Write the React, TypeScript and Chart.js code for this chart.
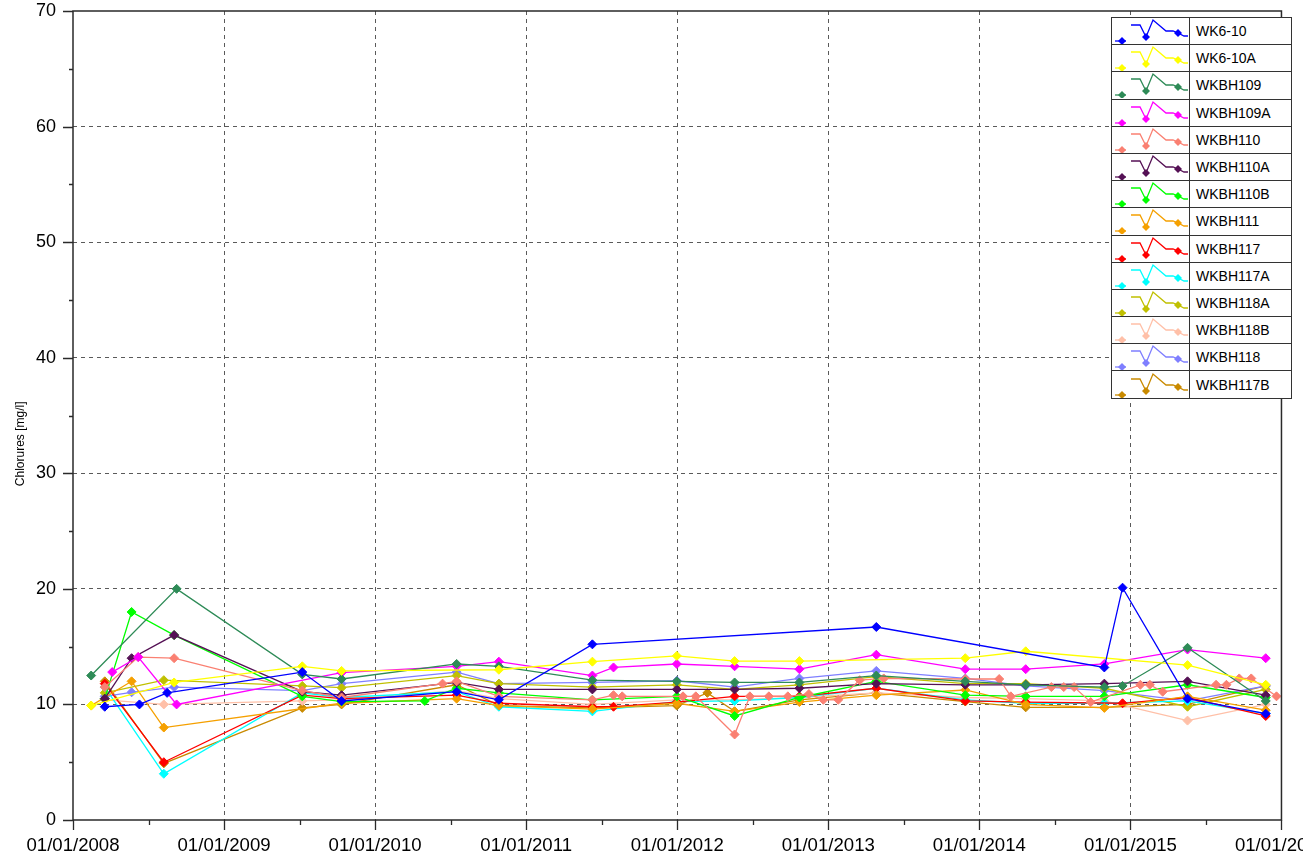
import React, { useEffect, useRef } from 'react';
import { Chart, registerables } from 'chart.js';

Chart.register(...registerables);

// ---------- Data ----------
const SERIES_NAMES = [
  'WK6-10', 'WK6-10A', 'WKBH109', 'WKBH109A', 'WKBH110', 'WKBH110A', 'WKBH110B',
  'WKBH111', 'WKBH117', 'WKBH117A', 'WKBH118A', 'WKBH118B', 'WKBH118', 'WKBH117B',
];
const SERIES_COLORS = [
  '#0000FF', '#FFFF00', '#2E8B57', '#FF00FF', '#FA8072', '#551155', '#00FF00',
  '#F5A000', '#FF0000', '#00FFFF', '#C0C000', '#FFC0A8', '#7F7FFF', '#C98A00',
];

const X_TICK_YEARS = [2008, 2009, 2010, 2011, 2012, 2013, 2014, 2015, 2016];
const Y_TICKS = [0, 10, 20, 30, 40, 50, 60, 70];

const WK6_10_DATES = ['2008-03-18', '2008-06-10', '2008-08-16', '2009-07-09', '2009-10-12', '2010-07-17', '2010-10-27', '2011-06-10', '2013-04-27', '2014-10-30', '2014-12-13', '2015-05-19', '2015-11-24'];
const WK6_10_VALUES = [9.8, 10.0, 11.0, 12.8, 10.3, 11.1, 10.4, 15.2, 16.7, 13.2, 20.1, 10.5, 9.2];

const WK6_10A_DATES = ['2008-02-14', '2008-09-02', '2009-07-09', '2009-10-12', '2010-10-27', '2011-06-10', '2011-12-31', '2012-05-19', '2012-10-23', '2013-11-28', '2014-04-23', '2015-05-19', '2015-11-24'];
const WK6_10A_VALUES = [9.9, 11.9, 13.3, 12.9, 13.0, 13.7, 14.2, 13.75, 13.75, 14.0, 14.6, 13.4, 11.7];

const WKBH109_DATES = ['2008-02-14', '2008-09-08', '2009-07-09', '2009-10-12', '2010-07-17', '2010-10-27', '2011-06-10', '2011-12-31', '2012-05-19', '2012-10-23', '2013-04-27', '2013-11-28', '2014-04-23', '2014-10-30', '2014-12-13', '2015-05-19', '2015-11-24'];
const WKBH109_VALUES = [12.5, 20.0, 12.6, 12.2, 13.5, 13.3, 12.1, 12.0, 11.9, 11.9, 12.5, 12.0, 11.7, 11.5, 11.6, 14.9, 10.3];

const WKBH109A_DATES = ['2008-04-05', '2008-06-07', '2008-09-08', '2009-10-12', '2010-07-17', '2010-10-27', '2011-06-10', '2011-07-31', '2011-12-31', '2012-05-19', '2012-10-23', '2013-04-27', '2013-11-28', '2014-04-23', '2014-10-30', '2015-05-19', '2015-11-24'];
const WKBH109A_VALUES = [12.8, 14.1, 10.0, 12.75, 13.3, 13.7, 12.5, 13.2, 13.5, 13.3, 13.05, 14.3, 13.05, 13.05, 13.5, 14.75, 14.0];

const WKBH110_DATES = ['2008-03-18', '2008-06-07', '2008-09-02', '2009-07-09', '2009-10-12', '2010-06-13', '2010-07-17', '2010-10-27', '2011-06-10', '2011-07-31', '2011-08-21', '2012-01-15', '2012-02-15', '2012-05-19', '2012-06-25', '2012-08-10', '2012-09-25', '2012-11-15', '2012-12-20', '2013-01-25', '2013-03-18', '2013-05-15', '2013-11-28', '2014-02-18', '2014-03-18', '2014-06-24', '2014-07-24', '2014-08-18', '2014-09-27', '2015-01-25', '2015-02-17', '2015-03-20', '2015-07-27', '2015-08-21', '2015-09-21', '2015-10-20', '2015-12-20'];
const WKBH110_VALUES = [11.5, 14.1, 14.0, 11.2, 10.6, 11.8, 12.0, 10.7, 10.4, 10.8, 10.7, 10.7, 10.7, 7.4, 10.7, 10.7, 10.7, 10.9, 10.4, 10.4, 12.1, 12.25, 12.2, 12.2, 10.7, 11.5, 11.5, 11.5, 10.2, 11.7, 11.7, 11.1, 11.7, 11.7, 12.25, 12.25, 10.7];

const WKBH110A_DATES = ['2008-03-18', '2008-05-22', '2008-09-02', '2009-07-09', '2009-10-12', '2010-07-17', '2010-10-27', '2011-06-10', '2011-12-31', '2012-05-19', '2012-10-23', '2013-04-27', '2013-11-28', '2014-04-23', '2014-10-30', '2015-05-19', '2015-11-24'];
const WKBH110A_VALUES = [10.5, 14.0, 16.0, 11.1, 10.8, 11.9, 11.3, 11.3, 11.3, 11.3, 11.4, 11.8, 11.7, 11.7, 11.8, 12.0, 10.8];

const WKBH110B_DATES = ['2008-03-18', '2008-05-22', '2008-09-02', '2009-07-09', '2009-10-12', '2010-05-01', '2010-07-17', '2010-10-27', '2011-06-10', '2011-12-31', '2012-05-19', '2012-10-23', '2013-04-27', '2013-11-28', '2014-04-23', '2014-10-30', '2015-05-19', '2015-11-24'];
const WKBH110B_VALUES = [10.5, 18.0, 16.0, 10.7, 10.25, 10.3, 11.4, 11.0, 10.4, 10.7, 9.0, 10.6, 12.0, 10.8, 10.7, 10.7, 11.7, 10.6];

const WKBH111_DATES = ['2008-02-14', '2008-05-22', '2008-08-08', '2009-10-12', '2010-07-17', '2010-10-27', '2011-06-10', '2011-12-31', '2012-05-19', '2012-10-23', '2013-04-27', '2013-11-28', '2014-04-23', '2014-10-30', '2015-05-19', '2015-11-24'];
const WKBH111_VALUES = [9.9, 12.0, 8.0, 10.1, 10.5, 9.9, 9.6, 10.1, 9.4, 10.2, 10.8, 11.25, 10.0, 9.7, 10.7, 9.5];

const WKBH117_DATES = ['2008-03-18', '2008-08-08', '2009-07-09', '2009-10-12', '2010-07-17', '2010-10-27', '2011-06-10', '2011-07-31', '2011-12-31', '2012-05-19', '2012-10-23', '2013-04-27', '2013-11-28', '2014-04-23', '2014-12-13', '2015-05-19', '2015-11-24'];
const WKBH117_VALUES = [11.8, 5.0, 10.8, 10.5, 10.8, 10.1, 9.8, 9.8, 10.2, 10.7, 10.7, 11.4, 10.3, 10.2, 10.1, 10.6, 9.0];

const WKBH117A_DATES = ['2008-03-18', '2008-08-08', '2009-07-09', '2009-10-12', '2010-07-17', '2010-10-27', '2011-06-10', '2011-12-31', '2012-05-19', '2012-10-23', '2013-04-27', '2013-11-28', '2014-04-23', '2014-10-30', '2015-05-19', '2015-11-24'];
const WKBH117A_VALUES = [11.5, 4.0, 11.0, 10.6, 11.1, 9.8, 9.4, 10.25, 10.3, 10.6, 11.4, 10.4, 10.1, 10.1, 10.3, 9.2];

const WKBH118A_DATES = ['2008-03-18', '2008-08-08', '2009-07-09', '2009-10-12', '2010-07-17', '2010-10-27', '2011-06-10', '2011-12-31', '2012-05-19', '2012-10-23', '2013-04-27', '2013-11-28', '2014-04-23', '2014-10-30', '2015-05-19', '2015-11-24'];
const WKBH118A_VALUES = [11.0, 12.1, 11.6, 11.45, 12.5, 11.8, 11.5, 11.7, 11.3, 11.7, 12.4, 11.8, 11.8, 11.4, 9.8, 11.3];

const WKBH118B_DATES = ['2008-03-18', '2008-08-08', '2009-07-09', '2009-10-12', '2010-07-17', '2010-10-27', '2011-06-10', '2011-12-31', '2012-05-19', '2012-10-23', '2013-04-27', '2013-11-28', '2014-04-23', '2014-10-30', '2015-05-19', '2015-11-24'];
const WKBH118B_VALUES = [10.4, 10.0, 10.3, 10.4, 11.2, 10.5, 10.0, 10.4, 10.4, 10.6, 11.0, 10.6, 10.5, 10.3, 8.6, 10.0];

const WKBH118_DATES = ['2008-03-18', '2008-05-22', '2008-09-02', '2009-07-09', '2009-10-12', '2010-07-17', '2010-10-27', '2011-06-10', '2011-12-31', '2012-05-19', '2012-10-23', '2013-04-27', '2013-11-28', '2014-04-23', '2014-10-30', '2015-05-19', '2015-11-24'];
const WKBH118_VALUES = [10.7, 11.05, 11.5, 11.2, 11.8, 12.8, 11.8, 11.9, 12.05, 11.5, 12.25, 12.9, 12.25, 11.6, 11.2, 10.3, 11.6];

const WKBH117B_DATES = ['2008-03-18', '2008-08-08', '2009-07-09', '2009-10-12', '2010-07-17', '2010-10-27', '2011-06-10', '2011-12-31', '2012-03-14', '2012-05-19', '2012-10-23', '2013-04-27', '2013-11-28', '2014-04-23', '2014-10-30', '2015-05-19', '2015-11-24'];
const WKBH117B_VALUES = [12.0, 4.9, 9.7, 10.0, 11.7, 9.9, 9.7, 9.9, 11.0, 9.4, 10.4, 11.0, 10.25, 9.75, 9.75, 10.0, 11.6];

const SERIES_DATES = [WK6_10_DATES, WK6_10A_DATES, WKBH109_DATES, WKBH109A_DATES, WKBH110_DATES, WKBH110A_DATES, WKBH110B_DATES, WKBH111_DATES, WKBH117_DATES, WKBH117A_DATES, WKBH118A_DATES, WKBH118B_DATES, WKBH118_DATES, WKBH117B_DATES];
const SERIES_VALUES = [WK6_10_VALUES, WK6_10A_VALUES, WKBH109_VALUES, WKBH109A_VALUES, WKBH110_VALUES, WKBH110A_VALUES, WKBH110B_VALUES, WKBH111_VALUES, WKBH117_VALUES, WKBH117A_VALUES, WKBH118A_VALUES, WKBH118B_VALUES, WKBH118_VALUES, WKBH117B_VALUES];

const Y_TITLE = 'Chlorures [mg/l]';

// ---------- Helpers ----------
function toYear(d: string): number {
  const [y, m, day] = d.split('-').map(Number);
  const start = Date.UTC(y, 0, 1);
  const end = Date.UTC(y + 1, 0, 1);
  return y + (Date.UTC(y, m - 1, day) - start) / (end - start);
}

const FONT = '"Liberation Sans", Arial, sans-serif';
const CANVAS_W = 1343;
const CANVAS_H = 856;

const frameTicksPlugin = {
  id: 'frameTicks',
  afterDraw(chart: any) {
    const { ctx, chartArea } = chart;
    const { left, top, right, bottom } = chartArea;
    const xs = chart.scales.x;
    const ys = chart.scales.y;
    ctx.save();
    ctx.strokeStyle = '#2a2a2a';
    ctx.lineWidth = 1.5;
    ctx.beginPath();
    ctx.rect(left, top, right - left, bottom - top);
    ctx.stroke();
    ctx.beginPath();
    for (let v = 0; v <= 70; v += 5) {
      const py = Math.round(ys.getPixelForValue(v)) + 0.5;
      const len = v % 10 === 0 ? 10 : 4;
      ctx.moveTo(left - len, py);
      ctx.lineTo(left, py);
    }
    for (let yr = X_TICK_YEARS[0]; yr <= X_TICK_YEARS[X_TICK_YEARS.length - 1]; yr += 0.5) {
      const px = Math.round(xs.getPixelForValue(yr)) + 0.5;
      const len = Number.isInteger(yr) ? 10 : 5;
      ctx.moveTo(px, bottom);
      ctx.lineTo(px, bottom + len);
    }
    ctx.lineWidth = 1.3;
    ctx.stroke();
    ctx.restore();
  },
};

function LegendIcon({ color }: { color: string }) {
  const d = (cx: number, cy: number, r: number) =>
    `${cx},${cy - r} ${cx + r},${cy} ${cx},${cy + r} ${cx - r},${cy}`;
  return (
    <svg width={77} height={26} style={{ display: 'block' }}>
      <polyline points="3,23 14,23" fill="none" stroke={color} strokeWidth={1.3} />
      <polyline points="19,7 28,7 34,19 41,2 54,13 61,13 66,15 72,18 76,18" fill="none" stroke={color} strokeWidth={1.3} />
      <polygon points={d(10, 23, 4)} fill={color} />
      <polygon points={d(34, 19, 4)} fill={color} />
      <polygon points={d(66, 15, 4)} fill={color} />
    </svg>
  );
}

export default function App() {
  const canvasRef = useRef<HTMLCanvasElement | null>(null);

  useEffect(() => {
    if (!canvasRef.current) return;
    const datasets = SERIES_NAMES.map((name, i) => ({
      label: name,
      data: SERIES_DATES[i].map((d, k) => ({ x: toYear(d), y: SERIES_VALUES[i][k] })),
      borderColor: SERIES_COLORS[i],
      backgroundColor: SERIES_COLORS[i],
      pointBackgroundColor: SERIES_COLORS[i],
      pointBorderColor: SERIES_COLORS[i],
      borderWidth: 1.3,
      pointStyle: 'rectRot',
      pointRadius: 4.5,
      pointBorderWidth: 1,
      tension: 0,
      fill: false,
    }));

    const chart = new Chart(canvasRef.current, {
      type: 'line',
      data: { datasets },
      plugins: [frameTicksPlugin],
      options: {
        animation: false,
        responsive: false,
        maintainAspectRatio: false,
        parsing: false as any,
        layout: { padding: { left: 0, top: 11, right: CANVAS_W - 1292, bottom: 0 } },
        plugins: {
          legend: { display: false },
          tooltip: { enabled: false },
        },
        scales: {
          x: {
            type: 'linear',
            min: 2008,
            max: 2016,
            afterBuildTicks: (scale: any) => {
              scale.ticks = X_TICK_YEARS.map((v) => ({ value: v }));
            },
            afterFit: (scale: any) => {
              scale.height = CANVAS_H - 820;
            },
            ticks: {
              autoSkip: false,
              maxRotation: 0,
              minRotation: 0,
              padding: 15,
              color: '#000',
              font: { family: FONT, size: 18.6 },
              callback: (v: any) => '01/01/' + Math.round(Number(v)),
            },
            grid: {
              drawTicks: false,
              lineWidth: 1,
              color: (ctx: any) => {
                const v = ctx.tick ? ctx.tick.value : 0;
                return v > 2008 && v < 2016 ? '#5a5a5a' : 'rgba(0,0,0,0)';
              },
            },
            border: { display: false, dash: [4, 4] },
          },
          y: {
            type: 'linear',
            min: 0,
            max: 70,
            afterBuildTicks: (scale: any) => {
              scale.ticks = Y_TICKS.map((v) => ({ value: v }));
            },
            afterFit: (scale: any) => {
              scale.width = 73;
              scale.paddingTop = 0;
              scale.paddingBottom = 0;
            },
            ticks: {
              padding: 17,
              color: '#000',
              font: { family: FONT, size: 18 },
            },
            grid: {
              drawTicks: false,
              lineWidth: 1,
              color: (ctx: any) => {
                const v = ctx.tick ? ctx.tick.value : 0;
                return v > 0 && v < 70 ? '#5a5a5a' : 'rgba(0,0,0,0)';
              },
            },
            border: { display: false, dash: [4, 4] },
            title: {
              display: true,
              // trailing spaces shift the rotated title below the axis centre, as in the original
              text: Y_TITLE + '\u00a0'.repeat(17),
              color: '#000',
              font: { family: FONT, size: 12 },
              padding: { top: 13, bottom: 0 },
            },
          },
        },
      },
    });
    return () => chart.destroy();
  }, []);

  return (
    <div
      style={{
        position: 'absolute',
        left: 0,
        top: 0,
        width: 1303,
        height: 856,
        overflow: 'hidden',
        background: '#fff',
      }}
    >
      <canvas
        ref={canvasRef}
        width={CANVAS_W}
        height={CANVAS_H}
        style={{ display: 'block', width: CANVAS_W, height: CANVAS_H }}
      />
      <table
        style={{
          position: 'absolute',
          left: 1111,
          top: 17,
          borderCollapse: 'collapse',
          background: '#fff',
          fontFamily: FONT,
          fontSize: 14,
          color: '#000',
        }}
      >
        <tbody>
          {SERIES_NAMES.map((name, i) => (
            <tr key={name}>
              <td style={{ border: '1.5px solid #333', padding: 0, width: 77, height: 26.2 }}>
                <LegendIcon color={SERIES_COLORS[i]} />
              </td>
              <td style={{ border: '1.5px solid #333', padding: '0 0 0 6px', width: 95, height: 26.2, whiteSpace: 'nowrap' }}>
                {name}
              </td>
            </tr>
          ))}
        </tbody>
      </table>
    </div>
  );
}
